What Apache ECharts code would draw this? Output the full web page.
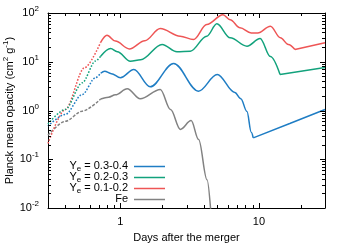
<!DOCTYPE html>
<html><head><meta charset="utf-8">
<script src="https://cdn.jsdelivr.net/npm/echarts@6/dist/echarts.min.js"></script>
<style>html,body{margin:0;padding:0;background:#fff}#c{width:350px;height:245px}</style>
</head><body><div id="c"></div>
<script>
// ---- data (days, opacity cm^2/g) ----
const redEarly   = [[0.3,0.21],[0.40,1.05],[0.55,7.5],[0.72,25]];
const redMain    = [[0.72,25],[0.80,35],[0.92,26.5],[1.16,18.3],[1.5,27],[1.94,48],[2.7,33.5],[3.37,28.6],[4.2,58],[5.5,92],[6.2,73],[7.3,50],[8.8,39],[9.8,39],[12.1,53.6],[14.3,31],[16.3,22.6],[18.2,17.8]];
const redTail    = [[18.2,17.8],[30,24.5]];
const greenEarly = [[0.3,0.53],[0.40,1.05],[0.53,3.7],[0.66,10.3],[0.72,13]];
const greenMain  = [[0.72,13],[0.85,18.7],[0.95,16],[1.18,10.2],[1.4,11],[2.0,22.6],[2.56,16],[3.2,16.5],[4.2,33.4],[4.97,60],[6.2,31],[8.2,20.8],[10.2,30],[12.1,12.8],[14.2,5.5]];
const greenTail  = [[14.2,5.5],[30,7.6]];
const blueEarly  = [[0.3,0.48],[0.40,0.83],[0.53,2.13],[0.66,4.69],[0.72,5.8]];
const blueMain   = [[0.72,5.8],[0.77,6.4],[0.86,5.7],[1.0,4.7],[1.25,6.9],[1.64,3.06],[2.42,9.2],[3.66,2.49],[5.0,5.47],[6.7,2.35],[7.4,1.75],[8.2,0.95],[8.8,0.36],[9.1,0.275]];
const blueTail   = [[9.1,0.275],[16.7,0.54],[30,1.05]];
const feEarly    = [[0.3,0.31],[0.40,0.6],[0.53,0.97],[0.72,1.72]];
const feMain     = [[0.72,1.72],[0.82,1.87],[0.92,2.1],[1.12,2.79],[1.39,1.74],[1.94,2.7],[2.3,1.05],[2.71,0.41],[3.24,0.62],[3.67,0.254],[4.22,0.038],[4.5,0.008]];

const legendLabels = ['{n|Y}{sub|e}{n| = 0.3-0.4}','{n|Y}{sub|e}{n| = 0.2-0.3}','{n|Y}{sub|e}{n| = 0.1-0.2}','{n|Fe}'];
const xRange = [0.3, 30];
const yRange = [0.01, 100];
const xTicksMajor = [1, 10];
const xTicksMinor = [0.3,0.4,0.5,0.6,0.7,0.8,0.9,2,3,4,5,6,7,8,9,20,30];
const yTicksMajor = [0.01, 0.1, 1, 10, 100];
const yTicksMinor = [];
[0.01,0.1,1,10].forEach(d => { for (let k = 2; k <= 9; k++) yTicksMinor.push(+(d*k).toPrecision(3)); });

// ---- styling ----
const COL = {blue:'#1f7dc4', green:'#12a27c', red:'#ee5555', gray:'#828282'};
const FONT = 'Liberation Sans, Arial, Helvetica, sans-serif';

function seg(name, data, color, dash, smooth) {
  return {type:'line', name, data, showSymbol:false, smooth: smooth, smoothMonotone:'x', clip:true,
    lineStyle:{color, width:1.5, type: dash || 'solid'}, itemStyle:{color}, silent:true, z:3};
}
function tickSeries(vals, isX, len) {
  return {type:'custom', silent:true, clip:false, z:6,
    data: vals.map(v => isX ? [v, yRange[0]] : [xRange[0], v]),
    renderItem(params, api) {
      const st = {stroke:'#000', lineWidth:1};
      if (isX) {
        const v = api.value(0);
        const b = api.coord([v, yRange[0]]), t = api.coord([v, yRange[1]]);
        const x = Math.round(b[0]) + 0.5;
        return {type:'group', children:[
          {type:'line', shape:{x1:x, y1:b[1], x2:x, y2:b[1]-len}, style:st},
          {type:'line', shape:{x1:x, y1:t[1], x2:x, y2:t[1]+len}, style:st}]};
      } else {
        const v = api.value(1);
        const l = api.coord([xRange[0], v]), r = api.coord([xRange[1], v]);
        const y = Math.round(l[1]) + 0.5;
        return {type:'group', children:[
          {type:'line', shape:{x1:l[0], y1:y, x2:l[0]+len, y2:y}, style:st},
          {type:'line', shape:{x1:r[0], y1:y, x2:r[0]-len, y2:y}, style:st}]};
      }
    }};
}

const isPow10 = v => Math.abs(Math.log10(v) - Math.round(Math.log10(v))) < 1e-6;
const gridBox = {left:48, top:13, width:277, height:195, containLabel:false, outerBoundsMode:'none'};

const legendColors = [COL.blue, COL.green, COL.red, COL.gray];
const graphics = [];
legendLabels.forEach((lab, i) => {
  const yc = 166 + i*11;
  graphics.push({type:'text', x:128, y:yc, z:10, style:{text:lab, align:'right', verticalAlign:'middle', fill:'#000',
    rich:{n:{fontSize:11, fontFamily:FONT, fill:'#000', color:'#000'}, sub:{fontSize:8, fontFamily:FONT, color:'#000', padding:[6,0,0,0]}}}});
  graphics.push({type:'line', z:10, shape:{x1:134, y1:yc+0.5, x2:165, y2:yc+0.5}, style:{stroke:legendColors[i], lineWidth:1.5}});
});

const chart = echarts.init(document.getElementById('c'), null, {renderer:'canvas'});
chart.setOption({
  animation:false,
  backgroundColor:'#fff',
  grid: gridBox,
  xAxis:[{type:'log', logBase:10, min:xRange[0], max:xRange[1], position:'bottom',
      axisLine:{show:true, onZero:false, lineStyle:{color:'#000', width:1}},
      axisTick:{show:false}, splitLine:{show:false}, minorTick:{show:false},
      axisLabel:{margin:8, fontSize:11, fontFamily:FONT, color:'#000',
        formatter: v => (isPow10(v) && xTicksMajor.some(m => Math.abs(m-v) < 1e-9)) ? String(Math.round(v)) : ''},
      name:'Days after the merger', nameLocation:'middle', nameGap:24, nameMoveOverlap:false,
      nameTextStyle:{fontSize:11, fontFamily:FONT, color:'#000'}},
    {type:'log', logBase:10, min:xRange[0], max:xRange[1], position:'top',
      axisLine:{show:true, onZero:false, lineStyle:{color:'#000', width:1}},
      axisTick:{show:false}, axisLabel:{show:false}, splitLine:{show:false}}],
  yAxis:[{type:'log', logBase:10, min:yRange[0], max:yRange[1], position:'left',
      axisLine:{show:true, onZero:false, lineStyle:{color:'#000', width:1}},
      axisTick:{show:false}, splitLine:{show:false}, minorTick:{show:false},
      axisLabel:{margin:9, fontFamily:FONT, color:'#000',
        formatter: v => { if (!yTicksMajor.some(m => Math.abs(Math.log10(m)-Math.log10(v)) < 1e-6)) return ''; return '{b|10}{s|' + Math.round(Math.log10(v)) + '}'; },
        rich:{b:{fontSize:11, fontFamily:FONT, color:'#000'}, s:{fontSize:8, fontFamily:FONT, color:'#000', padding:[0,0,8,0]}}},
      name:'{t|Planck mean opacity (cm}{s|2}{t| g}{s|-1}{t|)}', nameLocation:'middle', nameGap:30, nameRotate:90, nameMoveOverlap:false,
      nameTextStyle:{rich:{t:{fontSize:11, fontFamily:FONT, color:'#000'}, s:{fontSize:8, fontFamily:FONT, color:'#000', padding:[0,0,8,0]}}}},
    {type:'log', logBase:10, min:yRange[0], max:yRange[1], position:'right',
      axisLine:{show:true, onZero:false, lineStyle:{color:'#000', width:1}},
      axisTick:{show:false}, axisLabel:{show:false}, splitLine:{show:false}}],
  graphic: graphics,
  series:[
    seg('Fe', feEarly, COL.gray, [3,1.5], 0.3),
    seg('Fe', feMain, COL.gray, 'solid', 0.35),
    seg('red', redEarly, COL.red, [1.6,1.6], 0.3),
    seg('red', redMain, COL.red, 'solid', 0.35),
    seg('red', redTail, COL.red, 'solid', false),
    seg('green', greenEarly, COL.green, [1.6,1.6], 0.3),
    seg('green', greenMain, COL.green, 'solid', 0.35),
    seg('green', greenTail, COL.green, 'solid', false),
    seg('blue', blueEarly, COL.blue, [1.6,1.6], 0.3),
    seg('blue', blueMain, COL.blue, 'solid', 0.35),
    seg('blue', blueTail, COL.blue, 'solid', false),
    tickSeries(xTicksMajor, true, 5),
    tickSeries(xTicksMinor, true, 3),
    tickSeries(yTicksMajor, false, 5),
    tickSeries(yTicksMinor, false, 3)
  ]
});
</script></body></html>
